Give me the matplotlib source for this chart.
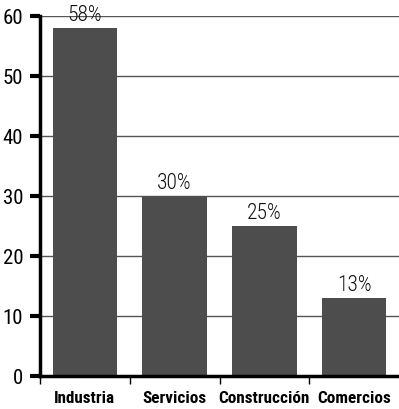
import matplotlib
matplotlib.use("Agg")
import matplotlib.pyplot as plt

sectors = ["Industria", "Servicios", "Construcción", "Comercios"]
shares = [58, 30, 25, 13]
yticks = [0, 10, 20, 30, 40, 50, 60]

plt.rcParams["font.family"] = ["Roboto Condensed", "DejaVu Sans"]

BAR = "#4d4d4d"

fig = plt.figure(figsize=(3.99, 4.10), dpi=100)
ax = fig.add_axes([40 / 399, 33 / 410, 359 / 399, 360 / 410])

x = range(len(sectors))
ax.bar(x, shares, width=0.72, color=BAR, zorder=2)
for xi, v in zip(x, shares):
    ax.text(xi, v + 0.5, f"{v}%", ha="center", va="bottom", fontsize=15.5,
            fontweight="light", color="#111111", clip_on=False, zorder=3)

ax.set_xlim(-0.5, 3.5)
ax.set_ylim(0, 60)
ax.set_yticks(yticks)
ax.set_yticklabels([str(t) for t in yticks], fontsize=15)
ax.yaxis.grid(True, color="#555555", lw=1.0, zorder=1)
ax.set_axisbelow(True)

# category ticks sit between bars, labels centred under each bar
ax.set_xticks([-0.5, 0.5, 1.5, 2.5])
ax.set_xticklabels([])
ax.set_xticks(list(x), minor=True)
ax.set_xticklabels(sectors, minor=True, fontsize=12.3, fontweight="bold")
ax.tick_params(axis="x", which="major", length=6, width=1, direction="out")
ax.tick_params(axis="x", which="minor", length=0, pad=10)
ax.tick_params(axis="y", length=7, width=3, pad=5)

for s in ("top", "right"):
    ax.spines[s].set_visible(False)
ax.spines["left"].set_linewidth(2.5)
ax.spines["bottom"].set_linewidth(2.5)

fig.savefig("out.png", dpi=100)
